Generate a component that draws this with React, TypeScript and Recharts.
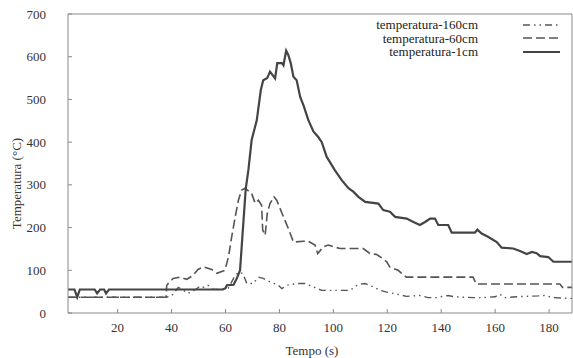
import React from "react";
import { LineChart, Line, XAxis, YAxis, Legend } from "recharts";

const xTicks = [20, 40, 60, 80, 100, 120, 140, 160, 180];
const yTicks = [0, 100, 200, 300, 400, 500, 600, 700];

const seriesNames = ["temperatura-160cm", "temperatura-60cm", "temperatura-1cm"];

const t1cm = [1.6, 4, 5, 6, 11.5, 12.4, 13.5, 15, 15.7, 16.8, 59, 60, 60.5, 63, 64.2, 65.4, 66.5, 67.5, 68.5, 69.7, 71.6, 73.1, 74, 75.5, 76.5, 78.4, 79.2, 80.9, 81.5, 82.5, 83.3, 84.2, 85.2, 86.4, 87.7, 89, 90.7, 92.6, 94.4, 95.7, 97.5, 100.6, 103.1, 105.6, 107.4, 109.3, 111.8, 116.7, 118.5, 121, 122.9, 127.2, 129.7, 132.1, 134, 135.9, 137.7, 138.9, 142.6, 143.9, 152.5, 153.4, 155, 157.5, 160.6, 162.4, 166.7, 169.2, 171.7, 173.6, 175.4, 176.7, 179.7, 181.6, 189];
const v1cm = [55, 55, 37, 55, 55, 46, 55, 55, 46, 55, 55, 58, 65, 66, 81, 100, 200, 290, 335, 405, 451, 522, 545, 550, 565, 549, 585, 585, 580, 614, 604, 585, 553, 545, 506, 485, 452, 425, 412, 400, 366, 334, 311, 292, 284, 272, 260, 256, 241, 237, 225, 221, 213, 206, 213, 221, 221, 206, 206, 188, 188, 195, 186, 178, 166, 153, 151, 145, 138, 143, 140, 133, 131, 120, 120];

const t60cm = [1.6, 38, 38.2, 40.6, 43.2, 45.6, 48, 49.8, 51.8, 54.9, 56.8, 59.8, 61.1, 62.3, 63.6, 64.8, 66, 67.3, 68.5, 69.7, 71, 72.2, 73.4, 73.8, 74.7, 75.5, 76.5, 78, 79, 81.5, 83.3, 85.2, 88.9, 90.7, 93.2, 94.2, 96.3, 98.1, 100, 102.5, 111.1, 113.6, 116.1, 118.4, 119.8, 120.9, 124, 127.1, 151.8, 153, 184, 185, 189];
const v60cm = [37, 37, 65, 81, 84, 79, 88, 102, 108, 102, 93, 100, 131, 178, 225, 264, 288, 292, 286, 280, 257, 264, 252, 194, 182, 233, 256, 272, 264, 225, 198, 166, 168, 168, 159, 139, 155, 159, 155, 151, 151, 139, 137, 127, 120, 108, 100, 84, 84, 68, 68, 60, 60];

const t160cm = [1.6, 38, 40, 42.5, 44, 46.2, 49, 50.5, 52, 53.5, 55, 58, 61, 63.6, 65, 66.5, 67.9, 70.3, 72.2, 74, 76.5, 79.6, 80.9, 82.7, 86.4, 89.5, 92.6, 95.7, 106.2, 109.3, 111.8, 114.8, 117.3, 119.8, 123, 127.1, 132.1, 135.1, 138.2, 142.5, 145, 151.8, 154.9, 160, 161.7, 163.5, 167.9, 171.6, 176, 178.4, 181.5, 189];
const v160cm = [37, 37, 40, 60, 55, 46, 55, 63, 60, 65, 56, 55, 58, 88, 96, 92, 69, 69, 84, 81, 73, 65, 57, 65, 69, 69, 61, 53, 53, 67, 69, 61, 53, 49, 45, 39, 41, 36, 36, 41, 38, 36, 36, 38, 44, 36, 38, 39, 40, 41, 36, 34];

const build = (ts: number[], vs: number[]) => ts.map((t, i) => ({ t, v: vs[i] }));
const d1cm = build(t1cm, v1cm);
const d60cm = build(t60cm, v60cm);
const d160cm = build(t160cm, v160cm);

const FONT = "Liberation Serif, Tinos, Times New Roman, DejaVu Serif, Noto Serif, serif";
const AXIS = "#8a8a8a";
const TEXT = "#333";

const styles: Record<string, { stroke: string; width: number; dash?: string }> = {
  "temperatura-160cm": { stroke: "#555", width: 1.4, dash: "7 4 1.5 4 1.5 4" },
  "temperatura-60cm": { stroke: "#555", width: 1.6, dash: "9 4" },
  "temperatura-1cm": { stroke: "#444", width: 2.2 },
};

const LegendContent = (props: any) => {
  const payload = [...(props.payload || [])].sort(
    (a: any, b: any) => seriesNames.indexOf(a.value) - seriesNames.indexOf(b.value)
  );
  return (
    <div style={{ fontFamily: FONT, fontSize: 13, color: "#222" }}>
      {payload.map((p: any) => {
        const s = styles[p.value];
        return (
          <div key={p.value} style={{ display: "flex", alignItems: "center", height: 13.5, lineHeight: "13.5px" }}>
            <span style={{ width: 148, textAlign: "right", display: "inline-block" }}>{p.value}</span>
            <svg width={37} height={6} style={{ marginLeft: 45 }}>
              <line x1={0} y1={3} x2={37} y2={3} stroke={s.stroke} strokeWidth={s.width} strokeDasharray={s.dash} />
            </svg>
          </div>
        );
      })}
    </div>
  );
};

const YLabel = (props: any) => {
  const vb = props.viewBox || { x: 0, y: 0, width: 0, height: 0 };
  const x = vb.x + 16;
  const y = vb.y + vb.height / 2 + 20;
  return (
    <text x={x} y={y} transform={`rotate(-90, ${x}, ${y})`} textAnchor="middle" dominantBaseline="central" style={{ fontFamily: FONT }} fontSize={13} fill={TEXT}>
      Temperatura (°C)
    </text>
  );
};

const XLabel = (props: any) => {
  const vb = props.viewBox || { x: 0, y: 0, width: 0, height: 0 };
  const x = vb.x + vb.width / 2 - 8;
  const y = vb.y + 37;
  return (
    <text x={x} y={y} textAnchor="middle" dominantBaseline="central" style={{ fontFamily: FONT }} fontSize={13} fill={TEXT}>
      Tempo (s)
    </text>
  );
};

export default function App() {
  return (
    <div style={{ position: "absolute", left: 0, top: 0, width: 573, height: 358, background: "#fff", fontFamily: FONT }}>
      <LineChart width={573} height={358} margin={{ top: 0, right: 0, bottom: 0, left: 0 }} style={{ fontFamily: FONT }}>
        <XAxis
          dataKey="t"
          type="number"
          domain={[1.6, 188.5]}
          allowDataOverflow
          ticks={xTicks}
          height={45}
          tickSize={-4}
          tickMargin={14}
          stroke={AXIS}
          tick={{ fill: TEXT, fontSize: 13, style: { fontFamily: FONT } }}
          label={<XLabel />}
        />
        <XAxis
          xAxisId="top"
          orientation="top"
          type="number"
          domain={[1.6, 188.5]}
          ticks={xTicks}
          height={14}
          tickSize={-4}
          tick={false}
          stroke={AXIS}
        />
        <YAxis
          type="number"
          domain={[0, 700]}
          ticks={yTicks}
          width={68}
          tickSize={-4}
          tickMargin={26}
          stroke={AXIS}
          tick={{ fill: TEXT, fontSize: 13, style: { fontFamily: FONT } }}
          label={<YLabel />}
        />
        <YAxis
          yAxisId="right"
          orientation="right"
          type="number"
          domain={[0, 700]}
          ticks={yTicks}
          width={1}
          tickSize={-4}
          tick={false}
          stroke={AXIS}
        />
        <Legend
          layout="vertical"
          align="center"
          verticalAlign="middle"
          wrapperStyle={{ top: 18, left: 330, width: 240, height: 42 }}
          content={<LegendContent />}
        />
        <Line
          data={d160cm}
          dataKey="v"
          name={seriesNames[0]}
          type="linear"
          dot={false}
          stroke={styles[seriesNames[0]].stroke}
          strokeWidth={styles[seriesNames[0]].width}
          strokeDasharray={styles[seriesNames[0]].dash}
          isAnimationActive={false}
        />
        <Line
          data={d60cm}
          dataKey="v"
          name={seriesNames[1]}
          type="linear"
          dot={false}
          stroke={styles[seriesNames[1]].stroke}
          strokeWidth={styles[seriesNames[1]].width}
          strokeDasharray={styles[seriesNames[1]].dash}
          isAnimationActive={false}
        />
        <Line
          data={d1cm}
          dataKey="v"
          name={seriesNames[2]}
          type="linear"
          dot={false}
          stroke={styles[seriesNames[2]].stroke}
          strokeWidth={styles[seriesNames[2]].width}
          isAnimationActive={false}
        />
      </LineChart>
    </div>
  );
}
